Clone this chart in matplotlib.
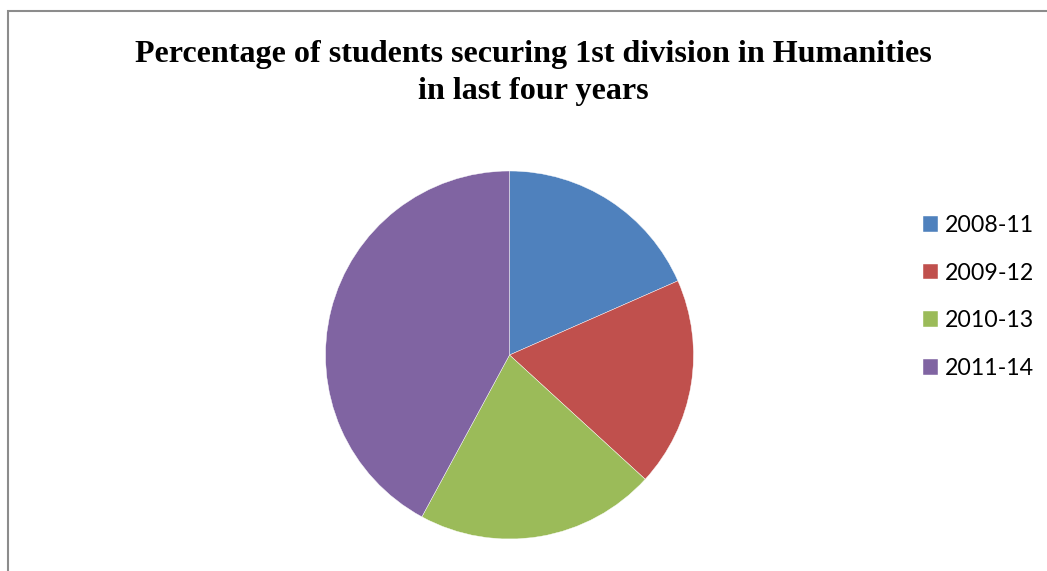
import matplotlib
matplotlib.use("Agg")
import matplotlib.pyplot as plt
from matplotlib.patches import Rectangle

# Share of students with 1st division
years = ["2008-11", "2009-12", "2010-13", "2011-14"]
shares = [18.4, 18.4, 21.1, 42.1]
colors = ["#4F81BD", "#C0504D", "#9BBB59", "#8064A2"]

W, H = 1047, 571
fig = plt.figure(figsize=(W / 100, H / 100), dpi=100)

# chart-area border (runs off the right and bottom edges)
fig.add_artist(Rectangle((8 / W, -0.2), 2.0, 1.2 - 11 / H,
                         transform=fig.transFigure, fill=False,
                         edgecolor="#8c8c8c", lw=1.5))

# pie placed in pixels: centre (509.5, 355), radius 184
cx, cy, r = 509.5, 355, 184
ax = fig.add_axes([(cx - r) / W, 1 - (cy + r) / H, 2 * r / W, 2 * r / H])
wedges, _ = ax.pie(shares, colors=colors, startangle=90, counterclock=False,
                   radius=1, wedgeprops=dict(edgecolor="white", linewidth=0.3))
ax.set_xlim(-1, 1)
ax.set_ylim(-1, 1)
ax.set_aspect("equal")
ax.axis("off")

fig.text(533.5 / W, 1 - 62 / H,
         "Percentage of students securing 1st division in Humanities",
         ha="center", va="baseline", fontsize=23.1, fontweight="bold",
         family="Liberation Serif")
fig.text(533.5 / W, 1 - 99 / H, "in last four years",
         ha="center", va="baseline", fontsize=23.1, fontweight="bold",
         family="Liberation Serif")

fig.legend(wedges, years, loc="center left",
           bbox_to_anchor=(923 / W, 1 - 297 / H), frameon=False,
           prop=dict(family="Lato", size=16.7), borderpad=0, borderaxespad=0,
           handlelength=0.65, handleheight=0.65, handletextpad=0.3,
           labelspacing=1.15)

fig.savefig("out.png", dpi=100)
